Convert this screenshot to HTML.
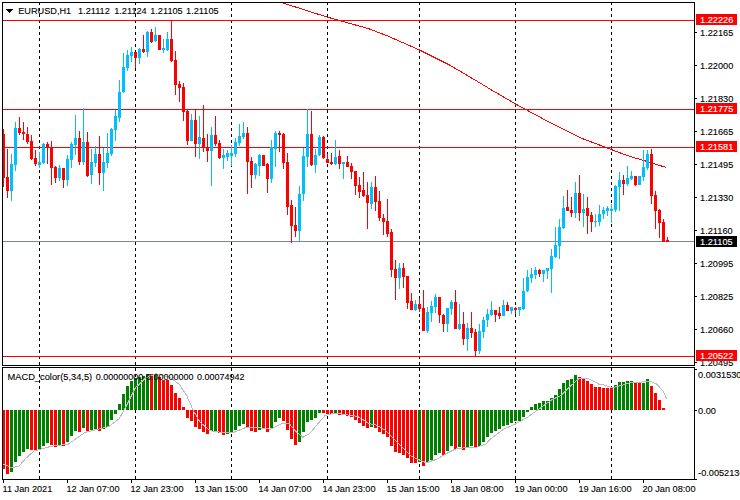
<!DOCTYPE html><html><head><meta charset="utf-8"><style>html,body{margin:0;padding:0;background:#fff;width:740px;height:500px;overflow:hidden}svg{display:block}text{font-family:"Liberation Sans",sans-serif;font-size:9.5px}</style></head><body>
<svg width="740" height="500" viewBox="0 0 740 500" shape-rendering="crispEdges">
<rect x="0" y="0" width="740" height="500" fill="#fff"/>
<g fill="#000">
<path d="M6 9h7l-3.5 4z" fill="#000"/>
<text transform="translate(18.2,14) scale(0.968,1)" fill="#000" stroke="#000" stroke-width="0.12">EURUSD,H1</text>
<text transform="translate(78,14) scale(0.968,1)" fill="#000" stroke="#000" stroke-width="0.12">1.21112</text>
<text transform="translate(114.2,14) scale(0.968,1)" fill="#000" stroke="#000" stroke-width="0.12">1.21124</text>
<text transform="translate(150.2,14) scale(0.968,1)" fill="#000" stroke="#000" stroke-width="0.12">1.21105</text>
<text transform="translate(186.1,14) scale(0.968,1)" fill="#000" stroke="#000" stroke-width="0.12">1.21105</text>
</g>
<g stroke="#000" stroke-width="1" stroke-dasharray="3 3">
<line x1="39.5" y1="2" x2="39.5" y2="479"/>
<line x1="135.5" y1="2" x2="135.5" y2="479"/>
<line x1="231.5" y1="2" x2="231.5" y2="479"/>
<line x1="327.5" y1="2" x2="327.5" y2="479"/>
<line x1="419.5" y1="2" x2="419.5" y2="479"/>
<line x1="515.5" y1="2" x2="515.5" y2="479"/>
<line x1="611.5" y1="2" x2="611.5" y2="479"/>
</g>
<rect x="3" y="20" width="691" height="1" fill="#FF0000"/>
<rect x="3" y="109" width="691" height="1" fill="#FF0000"/>
<rect x="3" y="147" width="691" height="1" fill="#FF0000"/>
<rect x="3" y="356" width="691" height="1" fill="#FF0000"/>
<rect x="3" y="241" width="691" height="1" fill="#778899"/>
<clipPath id="cm"><rect x="3" y="3" width="691" height="362"/></clipPath>
<polyline clip-path="url(#cm)" fill="none" stroke="#FF0000" stroke-width="1" points="270,-3 282,2.7 327,17 340,20.7 368.4,28.6 387.3,35.8 419.5,50 449.7,65.1 475,80 495.3,92.2 515.5,104 550,122.6 580.4,137.8 604.7,147 622,153.6 630,156.5 644,160.5 653,163.5 666.5,167.5"/>
<g>
<rect x="3" y="129" width="1" height="58" fill="#FF0000"/>
<rect x="2" y="134" width="3" height="44" fill="#FF0000"/>
<rect x="7" y="149" width="1" height="49" fill="#FF0000"/>
<rect x="6" y="177" width="3" height="14" fill="#FF0000"/>
<rect x="11" y="154" width="1" height="47" fill="#00BFFF"/>
<rect x="10" y="164" width="3" height="27" fill="#00BFFF"/>
<rect x="15" y="122" width="1" height="49" fill="#00BFFF"/>
<rect x="14" y="128" width="3" height="37" fill="#00BFFF"/>
<rect x="19" y="117" width="1" height="18" fill="#FF0000"/>
<rect x="18" y="128" width="3" height="5" fill="#FF0000"/>
<rect x="23" y="122" width="1" height="18" fill="#FF0000"/>
<rect x="22" y="132" width="3" height="2" fill="#FF0000"/>
<rect x="27" y="127" width="1" height="17" fill="#FF0000"/>
<rect x="26" y="134" width="3" height="8" fill="#FF0000"/>
<rect x="31" y="135" width="1" height="25" fill="#FF0000"/>
<rect x="30" y="141" width="3" height="18" fill="#FF0000"/>
<rect x="35" y="150" width="1" height="16" fill="#FF0000"/>
<rect x="34" y="158" width="3" height="6" fill="#FF0000"/>
<rect x="39" y="152" width="1" height="16" fill="#00BFFF"/>
<rect x="38" y="162" width="3" height="3" fill="#00BFFF"/>
<rect x="43" y="143" width="1" height="21" fill="#00BFFF"/>
<rect x="42" y="144" width="3" height="19" fill="#00BFFF"/>
<rect x="47" y="142" width="1" height="22" fill="#FF0000"/>
<rect x="46" y="144" width="3" height="3" fill="#FF0000"/>
<rect x="51" y="141" width="1" height="44" fill="#FF0000"/>
<rect x="50" y="147" width="3" height="21" fill="#FF0000"/>
<rect x="55" y="166" width="1" height="17" fill="#FF0000"/>
<rect x="54" y="167" width="3" height="11" fill="#FF0000"/>
<rect x="59" y="165" width="1" height="16" fill="#00BFFF"/>
<rect x="58" y="168" width="3" height="10" fill="#00BFFF"/>
<rect x="63" y="168" width="1" height="20" fill="#FF0000"/>
<rect x="62" y="168" width="3" height="12" fill="#FF0000"/>
<rect x="67" y="155" width="1" height="31" fill="#00BFFF"/>
<rect x="66" y="159" width="3" height="21" fill="#00BFFF"/>
<rect x="71" y="142" width="1" height="26" fill="#00BFFF"/>
<rect x="70" y="144" width="3" height="16" fill="#00BFFF"/>
<rect x="75" y="115" width="1" height="40" fill="#00BFFF"/>
<rect x="74" y="138" width="3" height="7" fill="#00BFFF"/>
<rect x="79" y="131" width="1" height="34" fill="#FF0000"/>
<rect x="78" y="138" width="3" height="24" fill="#FF0000"/>
<rect x="83" y="108" width="1" height="57" fill="#00BFFF"/>
<rect x="82" y="142" width="3" height="20" fill="#00BFFF"/>
<rect x="87" y="132" width="1" height="45" fill="#FF0000"/>
<rect x="86" y="142" width="3" height="34" fill="#FF0000"/>
<rect x="91" y="149" width="1" height="35" fill="#00BFFF"/>
<rect x="90" y="162" width="3" height="13" fill="#00BFFF"/>
<rect x="95" y="146" width="1" height="21" fill="#00BFFF"/>
<rect x="94" y="154" width="3" height="9" fill="#00BFFF"/>
<rect x="99" y="136" width="1" height="49" fill="#FF0000"/>
<rect x="98" y="154" width="3" height="19" fill="#FF0000"/>
<rect x="103" y="148" width="1" height="43" fill="#00BFFF"/>
<rect x="102" y="162" width="3" height="11" fill="#00BFFF"/>
<rect x="107" y="133" width="1" height="35" fill="#00BFFF"/>
<rect x="106" y="153" width="3" height="10" fill="#00BFFF"/>
<rect x="111" y="128" width="1" height="28" fill="#00BFFF"/>
<rect x="110" y="129" width="3" height="25" fill="#00BFFF"/>
<rect x="115" y="110" width="1" height="31" fill="#00BFFF"/>
<rect x="114" y="116" width="3" height="14" fill="#00BFFF"/>
<rect x="119" y="80" width="1" height="42" fill="#00BFFF"/>
<rect x="118" y="92" width="3" height="26" fill="#00BFFF"/>
<rect x="123" y="53" width="1" height="40" fill="#00BFFF"/>
<rect x="122" y="67" width="3" height="25" fill="#00BFFF"/>
<rect x="127" y="50" width="1" height="21" fill="#00BFFF"/>
<rect x="126" y="55" width="3" height="13" fill="#00BFFF"/>
<rect x="131" y="47" width="1" height="15" fill="#00BFFF"/>
<rect x="130" y="52" width="3" height="4" fill="#00BFFF"/>
<rect x="135" y="52" width="1" height="16" fill="#FF0000"/>
<rect x="134" y="52" width="3" height="6" fill="#FF0000"/>
<rect x="139" y="48" width="1" height="16" fill="#00BFFF"/>
<rect x="138" y="49" width="3" height="9" fill="#00BFFF"/>
<rect x="143" y="35" width="1" height="18" fill="#FF0000"/>
<rect x="142" y="49" width="3" height="3" fill="#FF0000"/>
<rect x="147" y="31" width="1" height="26" fill="#00BFFF"/>
<rect x="146" y="32" width="3" height="20" fill="#00BFFF"/>
<rect x="151" y="29" width="1" height="14" fill="#FF0000"/>
<rect x="150" y="32" width="3" height="10" fill="#FF0000"/>
<rect x="155" y="27" width="1" height="15" fill="#00BFFF"/>
<rect x="154" y="35" width="3" height="6" fill="#00BFFF"/>
<rect x="159" y="35" width="1" height="15" fill="#FF0000"/>
<rect x="158" y="35" width="3" height="15" fill="#FF0000"/>
<rect x="163" y="39" width="1" height="14" fill="#00BFFF"/>
<rect x="162" y="48" width="3" height="2" fill="#00BFFF"/>
<rect x="167" y="32" width="1" height="19" fill="#00BFFF"/>
<rect x="166" y="39" width="3" height="11" fill="#00BFFF"/>
<rect x="171" y="20" width="1" height="42" fill="#FF0000"/>
<rect x="170" y="39" width="3" height="22" fill="#FF0000"/>
<rect x="175" y="51" width="1" height="44" fill="#FF0000"/>
<rect x="174" y="60" width="3" height="25" fill="#FF0000"/>
<rect x="179" y="81" width="1" height="21" fill="#FF0000"/>
<rect x="178" y="84" width="3" height="4" fill="#FF0000"/>
<rect x="183" y="83" width="1" height="38" fill="#FF0000"/>
<rect x="182" y="87" width="3" height="25" fill="#FF0000"/>
<rect x="187" y="109" width="1" height="36" fill="#FF0000"/>
<rect x="186" y="111" width="3" height="30" fill="#FF0000"/>
<rect x="191" y="114" width="1" height="27" fill="#00BFFF"/>
<rect x="190" y="120" width="3" height="21" fill="#00BFFF"/>
<rect x="195" y="109" width="1" height="48" fill="#FF0000"/>
<rect x="194" y="120" width="3" height="24" fill="#FF0000"/>
<rect x="199" y="116" width="1" height="43" fill="#00BFFF"/>
<rect x="198" y="137" width="3" height="7" fill="#00BFFF"/>
<rect x="203" y="105" width="1" height="47" fill="#FF0000"/>
<rect x="202" y="138" width="3" height="10" fill="#FF0000"/>
<rect x="207" y="134" width="1" height="28" fill="#FF0000"/>
<rect x="206" y="147" width="3" height="4" fill="#FF0000"/>
<rect x="211" y="127" width="1" height="59" fill="#00BFFF"/>
<rect x="210" y="135" width="3" height="16" fill="#00BFFF"/>
<rect x="215" y="116" width="1" height="30" fill="#FF0000"/>
<rect x="214" y="135" width="3" height="9" fill="#FF0000"/>
<rect x="219" y="140" width="1" height="19" fill="#FF0000"/>
<rect x="218" y="143" width="3" height="15" fill="#FF0000"/>
<rect x="223" y="149" width="1" height="20" fill="#00BFFF"/>
<rect x="222" y="155" width="3" height="3" fill="#00BFFF"/>
<rect x="227" y="150" width="1" height="11" fill="#00BFFF"/>
<rect x="226" y="153" width="3" height="4" fill="#00BFFF"/>
<rect x="231" y="145" width="1" height="21" fill="#00BFFF"/>
<rect x="230" y="153" width="3" height="3" fill="#00BFFF"/>
<rect x="235" y="138" width="1" height="19" fill="#00BFFF"/>
<rect x="234" y="142" width="3" height="12" fill="#00BFFF"/>
<rect x="239" y="124" width="1" height="22" fill="#00BFFF"/>
<rect x="238" y="136" width="3" height="7" fill="#00BFFF"/>
<rect x="243" y="122" width="1" height="17" fill="#00BFFF"/>
<rect x="242" y="133" width="3" height="4" fill="#00BFFF"/>
<rect x="247" y="127" width="1" height="67" fill="#FF0000"/>
<rect x="246" y="133" width="3" height="29" fill="#FF0000"/>
<rect x="251" y="157" width="1" height="31" fill="#FF0000"/>
<rect x="250" y="161" width="3" height="14" fill="#FF0000"/>
<rect x="255" y="163" width="1" height="16" fill="#00BFFF"/>
<rect x="254" y="164" width="3" height="11" fill="#00BFFF"/>
<rect x="259" y="154" width="1" height="22" fill="#00BFFF"/>
<rect x="258" y="155" width="3" height="11" fill="#00BFFF"/>
<rect x="263" y="155" width="1" height="11" fill="#FF0000"/>
<rect x="262" y="155" width="3" height="11" fill="#FF0000"/>
<rect x="267" y="163" width="1" height="30" fill="#FF0000"/>
<rect x="266" y="164" width="3" height="15" fill="#FF0000"/>
<rect x="271" y="140" width="1" height="43" fill="#00BFFF"/>
<rect x="270" y="147" width="3" height="32" fill="#00BFFF"/>
<rect x="275" y="131" width="1" height="36" fill="#00BFFF"/>
<rect x="274" y="133" width="3" height="16" fill="#00BFFF"/>
<rect x="279" y="131" width="1" height="21" fill="#FF0000"/>
<rect x="278" y="133" width="3" height="2" fill="#FF0000"/>
<rect x="283" y="133" width="1" height="36" fill="#FF0000"/>
<rect x="282" y="134" width="3" height="29" fill="#FF0000"/>
<rect x="287" y="153" width="1" height="62" fill="#FF0000"/>
<rect x="286" y="162" width="3" height="45" fill="#FF0000"/>
<rect x="291" y="200" width="1" height="43" fill="#FF0000"/>
<rect x="290" y="205" width="3" height="21" fill="#FF0000"/>
<rect x="295" y="207" width="1" height="30" fill="#FF0000"/>
<rect x="294" y="225" width="3" height="6" fill="#FF0000"/>
<rect x="299" y="186" width="1" height="55" fill="#00BFFF"/>
<rect x="298" y="194" width="3" height="37" fill="#00BFFF"/>
<rect x="303" y="148" width="1" height="53" fill="#00BFFF"/>
<rect x="302" y="156" width="3" height="38" fill="#00BFFF"/>
<rect x="307" y="109" width="1" height="58" fill="#00BFFF"/>
<rect x="306" y="134" width="3" height="23" fill="#00BFFF"/>
<rect x="311" y="111" width="1" height="55" fill="#FF0000"/>
<rect x="310" y="134" width="3" height="31" fill="#FF0000"/>
<rect x="315" y="149" width="1" height="24" fill="#00BFFF"/>
<rect x="314" y="155" width="3" height="10" fill="#00BFFF"/>
<rect x="319" y="135" width="1" height="21" fill="#00BFFF"/>
<rect x="318" y="137" width="3" height="18" fill="#00BFFF"/>
<rect x="323" y="136" width="1" height="23" fill="#FF0000"/>
<rect x="322" y="137" width="3" height="21" fill="#FF0000"/>
<rect x="327" y="154" width="1" height="9" fill="#FF0000"/>
<rect x="326" y="159" width="3" height="4" fill="#FF0000"/>
<rect x="331" y="153" width="1" height="12" fill="#FF0000"/>
<rect x="330" y="162" width="3" height="2" fill="#FF0000"/>
<rect x="335" y="140" width="1" height="25" fill="#00BFFF"/>
<rect x="334" y="157" width="3" height="7" fill="#00BFFF"/>
<rect x="339" y="150" width="1" height="19" fill="#FF0000"/>
<rect x="338" y="156" width="3" height="8" fill="#FF0000"/>
<rect x="343" y="162" width="1" height="17" fill="#00BFFF"/>
<rect x="342" y="162" width="3" height="2" fill="#00BFFF"/>
<rect x="347" y="156" width="1" height="11" fill="#FF0000"/>
<rect x="346" y="162" width="3" height="5" fill="#FF0000"/>
<rect x="351" y="163" width="1" height="16" fill="#FF0000"/>
<rect x="350" y="166" width="3" height="6" fill="#FF0000"/>
<rect x="355" y="171" width="1" height="24" fill="#FF0000"/>
<rect x="354" y="171" width="3" height="15" fill="#FF0000"/>
<rect x="359" y="177" width="1" height="21" fill="#FF0000"/>
<rect x="358" y="185" width="3" height="7" fill="#FF0000"/>
<rect x="363" y="172" width="1" height="25" fill="#FF0000"/>
<rect x="362" y="190" width="3" height="6" fill="#FF0000"/>
<rect x="367" y="182" width="1" height="47" fill="#FF0000"/>
<rect x="366" y="195" width="3" height="8" fill="#FF0000"/>
<rect x="371" y="182" width="1" height="27" fill="#00BFFF"/>
<rect x="370" y="187" width="3" height="17" fill="#00BFFF"/>
<rect x="375" y="176" width="1" height="35" fill="#FF0000"/>
<rect x="374" y="187" width="3" height="15" fill="#FF0000"/>
<rect x="379" y="191" width="1" height="30" fill="#FF0000"/>
<rect x="378" y="201" width="3" height="17" fill="#FF0000"/>
<rect x="383" y="214" width="1" height="21" fill="#FF0000"/>
<rect x="382" y="218" width="3" height="4" fill="#FF0000"/>
<rect x="387" y="199" width="1" height="38" fill="#FF0000"/>
<rect x="386" y="221" width="3" height="13" fill="#FF0000"/>
<rect x="391" y="229" width="1" height="48" fill="#FF0000"/>
<rect x="390" y="232" width="3" height="38" fill="#FF0000"/>
<rect x="395" y="260" width="1" height="40" fill="#FF0000"/>
<rect x="394" y="269" width="3" height="9" fill="#FF0000"/>
<rect x="399" y="263" width="1" height="26" fill="#00BFFF"/>
<rect x="398" y="268" width="3" height="10" fill="#00BFFF"/>
<rect x="403" y="263" width="1" height="25" fill="#FF0000"/>
<rect x="402" y="268" width="3" height="9" fill="#FF0000"/>
<rect x="407" y="276" width="1" height="33" fill="#FF0000"/>
<rect x="406" y="276" width="3" height="27" fill="#FF0000"/>
<rect x="411" y="293" width="1" height="17" fill="#FF0000"/>
<rect x="410" y="301" width="3" height="9" fill="#FF0000"/>
<rect x="415" y="300" width="1" height="11" fill="#00BFFF"/>
<rect x="414" y="304" width="3" height="6" fill="#00BFFF"/>
<rect x="419" y="298" width="1" height="14" fill="#FF0000"/>
<rect x="418" y="304" width="3" height="5" fill="#FF0000"/>
<rect x="423" y="290" width="1" height="41" fill="#FF0000"/>
<rect x="422" y="308" width="3" height="23" fill="#FF0000"/>
<rect x="427" y="307" width="1" height="26" fill="#00BFFF"/>
<rect x="426" y="312" width="3" height="19" fill="#00BFFF"/>
<rect x="431" y="301" width="1" height="21" fill="#00BFFF"/>
<rect x="430" y="306" width="3" height="7" fill="#00BFFF"/>
<rect x="435" y="294" width="1" height="19" fill="#00BFFF"/>
<rect x="434" y="297" width="3" height="10" fill="#00BFFF"/>
<rect x="439" y="297" width="1" height="26" fill="#FF0000"/>
<rect x="438" y="297" width="3" height="18" fill="#FF0000"/>
<rect x="443" y="314" width="1" height="18" fill="#FF0000"/>
<rect x="442" y="315" width="3" height="9" fill="#FF0000"/>
<rect x="447" y="308" width="1" height="24" fill="#00BFFF"/>
<rect x="446" y="308" width="3" height="16" fill="#00BFFF"/>
<rect x="451" y="300" width="1" height="15" fill="#00BFFF"/>
<rect x="450" y="302" width="3" height="7" fill="#00BFFF"/>
<rect x="455" y="290" width="1" height="39" fill="#FF0000"/>
<rect x="454" y="302" width="3" height="27" fill="#FF0000"/>
<rect x="459" y="304" width="1" height="26" fill="#00BFFF"/>
<rect x="458" y="324" width="3" height="5" fill="#00BFFF"/>
<rect x="463" y="312" width="1" height="33" fill="#FF0000"/>
<rect x="462" y="324" width="3" height="15" fill="#FF0000"/>
<rect x="467" y="323" width="1" height="28" fill="#00BFFF"/>
<rect x="466" y="328" width="3" height="11" fill="#00BFFF"/>
<rect x="471" y="312" width="1" height="26" fill="#FF0000"/>
<rect x="470" y="328" width="3" height="5" fill="#FF0000"/>
<rect x="475" y="329" width="1" height="27" fill="#FF0000"/>
<rect x="474" y="332" width="3" height="19" fill="#FF0000"/>
<rect x="479" y="324" width="1" height="30" fill="#00BFFF"/>
<rect x="478" y="331" width="3" height="20" fill="#00BFFF"/>
<rect x="483" y="317" width="1" height="21" fill="#00BFFF"/>
<rect x="482" y="320" width="3" height="12" fill="#00BFFF"/>
<rect x="487" y="309" width="1" height="18" fill="#00BFFF"/>
<rect x="486" y="314" width="3" height="6" fill="#00BFFF"/>
<rect x="491" y="301" width="1" height="15" fill="#00BFFF"/>
<rect x="490" y="310" width="3" height="5" fill="#00BFFF"/>
<rect x="495" y="310" width="1" height="12" fill="#FF0000"/>
<rect x="494" y="310" width="3" height="5" fill="#FF0000"/>
<rect x="499" y="307" width="1" height="12" fill="#FF0000"/>
<rect x="498" y="313" width="3" height="3" fill="#FF0000"/>
<rect x="503" y="300" width="1" height="16" fill="#00BFFF"/>
<rect x="502" y="305" width="3" height="11" fill="#00BFFF"/>
<rect x="507" y="302" width="1" height="9" fill="#FF0000"/>
<rect x="506" y="305" width="3" height="6" fill="#FF0000"/>
<rect x="511" y="307" width="1" height="7" fill="#00BFFF"/>
<rect x="510" y="307" width="3" height="4" fill="#00BFFF"/>
<rect x="515" y="307" width="1" height="7" fill="#FF0000"/>
<rect x="514" y="308" width="3" height="2" fill="#FF0000"/>
<rect x="519" y="307" width="1" height="9" fill="#00BFFF"/>
<rect x="518" y="307" width="3" height="3" fill="#00BFFF"/>
<rect x="523" y="278" width="1" height="32" fill="#00BFFF"/>
<rect x="522" y="291" width="3" height="18" fill="#00BFFF"/>
<rect x="527" y="270" width="1" height="22" fill="#00BFFF"/>
<rect x="526" y="277" width="3" height="14" fill="#00BFFF"/>
<rect x="531" y="268" width="1" height="15" fill="#00BFFF"/>
<rect x="530" y="274" width="3" height="4" fill="#00BFFF"/>
<rect x="535" y="267" width="1" height="12" fill="#00BFFF"/>
<rect x="534" y="270" width="3" height="5" fill="#00BFFF"/>
<rect x="539" y="269" width="1" height="8" fill="#FF0000"/>
<rect x="538" y="270" width="3" height="4" fill="#FF0000"/>
<rect x="543" y="270" width="1" height="12" fill="#00BFFF"/>
<rect x="542" y="270" width="3" height="4" fill="#00BFFF"/>
<rect x="547" y="268" width="1" height="11" fill="#00BFFF"/>
<rect x="546" y="268" width="3" height="3" fill="#00BFFF"/>
<rect x="551" y="249" width="1" height="44" fill="#00BFFF"/>
<rect x="550" y="256" width="3" height="13" fill="#00BFFF"/>
<rect x="555" y="227" width="1" height="31" fill="#00BFFF"/>
<rect x="554" y="245" width="3" height="12" fill="#00BFFF"/>
<rect x="559" y="219" width="1" height="40" fill="#00BFFF"/>
<rect x="558" y="227" width="3" height="19" fill="#00BFFF"/>
<rect x="563" y="196" width="1" height="33" fill="#00BFFF"/>
<rect x="562" y="208" width="3" height="20" fill="#00BFFF"/>
<rect x="567" y="190" width="1" height="21" fill="#FF0000"/>
<rect x="566" y="207" width="3" height="4" fill="#FF0000"/>
<rect x="571" y="197" width="1" height="20" fill="#FF0000"/>
<rect x="570" y="210" width="3" height="3" fill="#FF0000"/>
<rect x="575" y="182" width="1" height="36" fill="#00BFFF"/>
<rect x="574" y="193" width="3" height="20" fill="#00BFFF"/>
<rect x="579" y="175" width="1" height="46" fill="#FF0000"/>
<rect x="578" y="193" width="3" height="20" fill="#FF0000"/>
<rect x="583" y="194" width="1" height="33" fill="#00BFFF"/>
<rect x="582" y="209" width="3" height="4" fill="#00BFFF"/>
<rect x="587" y="197" width="1" height="37" fill="#FF0000"/>
<rect x="586" y="208" width="3" height="8" fill="#FF0000"/>
<rect x="591" y="212" width="1" height="20" fill="#FF0000"/>
<rect x="590" y="215" width="3" height="7" fill="#FF0000"/>
<rect x="595" y="214" width="1" height="13" fill="#00BFFF"/>
<rect x="594" y="221" width="3" height="1" fill="#00BFFF"/>
<rect x="599" y="205" width="1" height="21" fill="#00BFFF"/>
<rect x="598" y="214" width="3" height="8" fill="#00BFFF"/>
<rect x="603" y="207" width="1" height="12" fill="#00BFFF"/>
<rect x="602" y="210" width="3" height="4" fill="#00BFFF"/>
<rect x="607" y="206" width="1" height="10" fill="#00BFFF"/>
<rect x="606" y="208" width="3" height="3" fill="#00BFFF"/>
<rect x="611" y="204" width="1" height="19" fill="#00BFFF"/>
<rect x="610" y="209" width="3" height="2" fill="#00BFFF"/>
<rect x="615" y="185" width="1" height="27" fill="#00BFFF"/>
<rect x="614" y="186" width="3" height="24" fill="#00BFFF"/>
<rect x="619" y="172" width="1" height="39" fill="#00BFFF"/>
<rect x="618" y="180" width="3" height="7" fill="#00BFFF"/>
<rect x="623" y="175" width="1" height="20" fill="#FF0000"/>
<rect x="622" y="180" width="3" height="4" fill="#FF0000"/>
<rect x="627" y="166" width="1" height="20" fill="#00BFFF"/>
<rect x="626" y="178" width="3" height="6" fill="#00BFFF"/>
<rect x="631" y="171" width="1" height="9" fill="#00BFFF"/>
<rect x="630" y="176" width="3" height="3" fill="#00BFFF"/>
<rect x="635" y="176" width="1" height="10" fill="#FF0000"/>
<rect x="634" y="176" width="3" height="9" fill="#FF0000"/>
<rect x="639" y="176" width="1" height="9" fill="#00BFFF"/>
<rect x="638" y="176" width="3" height="9" fill="#00BFFF"/>
<rect x="643" y="150" width="1" height="31" fill="#00BFFF"/>
<rect x="642" y="167" width="3" height="10" fill="#00BFFF"/>
<rect x="647" y="150" width="1" height="20" fill="#00BFFF"/>
<rect x="646" y="154" width="3" height="14" fill="#00BFFF"/>
<rect x="651" y="149" width="1" height="55" fill="#FF0000"/>
<rect x="650" y="154" width="3" height="42" fill="#FF0000"/>
<rect x="655" y="191" width="1" height="38" fill="#FF0000"/>
<rect x="654" y="195" width="3" height="16" fill="#FF0000"/>
<rect x="659" y="209" width="1" height="29" fill="#FF0000"/>
<rect x="658" y="210" width="3" height="13" fill="#FF0000"/>
<rect x="663" y="219" width="1" height="23" fill="#FF0000"/>
<rect x="662" y="222" width="3" height="20" fill="#FF0000"/>
<rect x="667" y="237" width="1" height="5" fill="#FF0000"/>
<rect x="666" y="240" width="3" height="2" fill="#FF0000"/>
</g>
<g>
<rect x="2" y="410" width="3" height="59" fill="#FF0000"/>
<rect x="6" y="410" width="3" height="64" fill="#FF0000"/>
<rect x="10" y="410" width="3" height="62" fill="#008000"/>
<rect x="14" y="410" width="3" height="52" fill="#008000"/>
<rect x="18" y="410" width="3" height="46" fill="#008000"/>
<rect x="22" y="410" width="3" height="42" fill="#008000"/>
<rect x="26" y="410" width="3" height="39" fill="#008000"/>
<rect x="30" y="410" width="3" height="40" fill="#FF0000"/>
<rect x="34" y="410" width="3" height="41" fill="#FF0000"/>
<rect x="38" y="410" width="3" height="40" fill="#008000"/>
<rect x="42" y="410" width="3" height="36" fill="#008000"/>
<rect x="46" y="410" width="3" height="33" fill="#008000"/>
<rect x="50" y="410" width="3" height="35" fill="#FF0000"/>
<rect x="54" y="410" width="3" height="37" fill="#FF0000"/>
<rect x="58" y="410" width="3" height="36" fill="#008000"/>
<rect x="62" y="410" width="3" height="36" fill="#FF0000"/>
<rect x="66" y="410" width="3" height="32" fill="#008000"/>
<rect x="70" y="410" width="3" height="26" fill="#008000"/>
<rect x="74" y="410" width="3" height="21" fill="#008000"/>
<rect x="78" y="410" width="3" height="22" fill="#FF0000"/>
<rect x="82" y="410" width="3" height="18" fill="#008000"/>
<rect x="86" y="410" width="3" height="21" fill="#FF0000"/>
<rect x="90" y="410" width="3" height="20" fill="#008000"/>
<rect x="94" y="410" width="3" height="19" fill="#008000"/>
<rect x="98" y="410" width="3" height="21" fill="#FF0000"/>
<rect x="102" y="410" width="3" height="19" fill="#008000"/>
<rect x="106" y="410" width="3" height="17" fill="#008000"/>
<rect x="110" y="410" width="3" height="10" fill="#008000"/>
<rect x="114" y="410" width="3" height="4" fill="#008000"/>
<rect x="118" y="404" width="3" height="6" fill="#008000"/>
<rect x="122" y="394" width="3" height="16" fill="#008000"/>
<rect x="126" y="386" width="3" height="24" fill="#008000"/>
<rect x="130" y="381" width="3" height="29" fill="#008000"/>
<rect x="134" y="378" width="3" height="32" fill="#008000"/>
<rect x="138" y="377" width="3" height="33" fill="#008000"/>
<rect x="142" y="376" width="3" height="34" fill="#008000"/>
<rect x="146" y="374" width="3" height="36" fill="#008000"/>
<rect x="150" y="374" width="3" height="36" fill="#FF0000"/>
<rect x="154" y="375" width="3" height="35" fill="#008000"/>
<rect x="158" y="377" width="3" height="33" fill="#FF0000"/>
<rect x="162" y="380" width="3" height="30" fill="#FF0000"/>
<rect x="166" y="380" width="3" height="30" fill="#FF0000"/>
<rect x="170" y="385" width="3" height="25" fill="#FF0000"/>
<rect x="174" y="393" width="3" height="17" fill="#FF0000"/>
<rect x="178" y="398" width="3" height="12" fill="#FF0000"/>
<rect x="182" y="407" width="3" height="3" fill="#FF0000"/>
<rect x="186" y="410" width="3" height="8" fill="#FF0000"/>
<rect x="190" y="410" width="3" height="11" fill="#FF0000"/>
<rect x="194" y="410" width="3" height="17" fill="#FF0000"/>
<rect x="198" y="410" width="3" height="19" fill="#FF0000"/>
<rect x="202" y="410" width="3" height="22" fill="#FF0000"/>
<rect x="206" y="410" width="3" height="24" fill="#FF0000"/>
<rect x="210" y="410" width="3" height="21" fill="#008000"/>
<rect x="214" y="410" width="3" height="21" fill="#008000"/>
<rect x="218" y="410" width="3" height="23" fill="#FF0000"/>
<rect x="222" y="410" width="3" height="25" fill="#FF0000"/>
<rect x="226" y="410" width="3" height="24" fill="#008000"/>
<rect x="230" y="410" width="3" height="23" fill="#008000"/>
<rect x="234" y="410" width="3" height="20" fill="#008000"/>
<rect x="238" y="410" width="3" height="16" fill="#008000"/>
<rect x="242" y="410" width="3" height="14" fill="#008000"/>
<rect x="246" y="410" width="3" height="17" fill="#FF0000"/>
<rect x="250" y="410" width="3" height="21" fill="#FF0000"/>
<rect x="254" y="410" width="3" height="22" fill="#FF0000"/>
<rect x="258" y="410" width="3" height="20" fill="#008000"/>
<rect x="262" y="410" width="3" height="18" fill="#FF0000"/>
<rect x="266" y="410" width="3" height="22" fill="#FF0000"/>
<rect x="270" y="410" width="3" height="18" fill="#008000"/>
<rect x="274" y="410" width="3" height="12" fill="#008000"/>
<rect x="278" y="410" width="3" height="8" fill="#008000"/>
<rect x="282" y="410" width="3" height="11" fill="#FF0000"/>
<rect x="286" y="410" width="3" height="20" fill="#FF0000"/>
<rect x="290" y="410" width="3" height="29" fill="#FF0000"/>
<rect x="294" y="410" width="3" height="35" fill="#FF0000"/>
<rect x="298" y="410" width="3" height="32" fill="#008000"/>
<rect x="302" y="410" width="3" height="22" fill="#008000"/>
<rect x="306" y="410" width="3" height="12" fill="#008000"/>
<rect x="310" y="410" width="3" height="10" fill="#008000"/>
<rect x="314" y="410" width="3" height="8" fill="#008000"/>
<rect x="318" y="410" width="3" height="3" fill="#008000"/>
<rect x="322" y="410" width="3" height="3" fill="#FF0000"/>
<rect x="326" y="410" width="3" height="4" fill="#FF0000"/>
<rect x="330" y="410" width="3" height="4" fill="#FF0000"/>
<rect x="334" y="410" width="3" height="3" fill="#008000"/>
<rect x="338" y="410" width="3" height="5" fill="#FF0000"/>
<rect x="342" y="410" width="3" height="4" fill="#FF0000"/>
<rect x="346" y="410" width="3" height="6" fill="#FF0000"/>
<rect x="350" y="410" width="3" height="7" fill="#FF0000"/>
<rect x="354" y="410" width="3" height="10" fill="#FF0000"/>
<rect x="358" y="410" width="3" height="13" fill="#FF0000"/>
<rect x="362" y="410" width="3" height="16" fill="#FF0000"/>
<rect x="366" y="410" width="3" height="18" fill="#FF0000"/>
<rect x="370" y="410" width="3" height="17" fill="#008000"/>
<rect x="374" y="410" width="3" height="18" fill="#FF0000"/>
<rect x="378" y="410" width="3" height="22" fill="#FF0000"/>
<rect x="382" y="410" width="3" height="24" fill="#FF0000"/>
<rect x="386" y="410" width="3" height="27" fill="#FF0000"/>
<rect x="390" y="410" width="3" height="36" fill="#FF0000"/>
<rect x="394" y="410" width="3" height="42" fill="#FF0000"/>
<rect x="398" y="410" width="3" height="43" fill="#FF0000"/>
<rect x="402" y="410" width="3" height="45" fill="#FF0000"/>
<rect x="406" y="410" width="3" height="48" fill="#FF0000"/>
<rect x="410" y="410" width="3" height="53" fill="#FF0000"/>
<rect x="414" y="410" width="3" height="53" fill="#FF0000"/>
<rect x="418" y="410" width="3" height="52" fill="#008000"/>
<rect x="422" y="410" width="3" height="56" fill="#FF0000"/>
<rect x="426" y="410" width="3" height="53" fill="#008000"/>
<rect x="430" y="410" width="3" height="50" fill="#008000"/>
<rect x="434" y="410" width="3" height="45" fill="#008000"/>
<rect x="438" y="410" width="3" height="43" fill="#008000"/>
<rect x="442" y="410" width="3" height="45" fill="#FF0000"/>
<rect x="446" y="410" width="3" height="41" fill="#008000"/>
<rect x="450" y="410" width="3" height="36" fill="#008000"/>
<rect x="454" y="410" width="3" height="39" fill="#FF0000"/>
<rect x="458" y="410" width="3" height="37" fill="#008000"/>
<rect x="462" y="410" width="3" height="40" fill="#FF0000"/>
<rect x="466" y="410" width="3" height="37" fill="#008000"/>
<rect x="470" y="410" width="3" height="36" fill="#008000"/>
<rect x="474" y="410" width="3" height="38" fill="#FF0000"/>
<rect x="478" y="410" width="3" height="36" fill="#008000"/>
<rect x="482" y="410" width="3" height="32" fill="#008000"/>
<rect x="486" y="410" width="3" height="27" fill="#008000"/>
<rect x="490" y="410" width="3" height="23" fill="#008000"/>
<rect x="494" y="410" width="3" height="21" fill="#008000"/>
<rect x="498" y="410" width="3" height="19" fill="#008000"/>
<rect x="502" y="410" width="3" height="16" fill="#008000"/>
<rect x="506" y="410" width="3" height="15" fill="#008000"/>
<rect x="510" y="410" width="3" height="13" fill="#008000"/>
<rect x="514" y="410" width="3" height="11" fill="#008000"/>
<rect x="518" y="410" width="3" height="11" fill="#008000"/>
<rect x="522" y="410" width="3" height="7" fill="#008000"/>
<rect x="526" y="410" width="3" height="2" fill="#008000"/>
<rect x="530" y="407" width="3" height="3" fill="#008000"/>
<rect x="534" y="404" width="3" height="6" fill="#008000"/>
<rect x="538" y="403" width="3" height="7" fill="#008000"/>
<rect x="542" y="401" width="3" height="9" fill="#008000"/>
<rect x="546" y="401" width="3" height="9" fill="#008000"/>
<rect x="550" y="398" width="3" height="12" fill="#008000"/>
<rect x="554" y="395" width="3" height="15" fill="#008000"/>
<rect x="558" y="389" width="3" height="21" fill="#008000"/>
<rect x="562" y="383" width="3" height="27" fill="#008000"/>
<rect x="566" y="380" width="3" height="30" fill="#008000"/>
<rect x="570" y="379" width="3" height="31" fill="#008000"/>
<rect x="574" y="375" width="3" height="35" fill="#008000"/>
<rect x="578" y="377" width="3" height="33" fill="#FF0000"/>
<rect x="582" y="379" width="3" height="31" fill="#FF0000"/>
<rect x="586" y="381" width="3" height="29" fill="#FF0000"/>
<rect x="590" y="384" width="3" height="26" fill="#FF0000"/>
<rect x="594" y="387" width="3" height="23" fill="#FF0000"/>
<rect x="598" y="387" width="3" height="23" fill="#FF0000"/>
<rect x="602" y="388" width="3" height="22" fill="#FF0000"/>
<rect x="606" y="388" width="3" height="22" fill="#FF0000"/>
<rect x="610" y="388" width="3" height="22" fill="#FF0000"/>
<rect x="614" y="385" width="3" height="25" fill="#008000"/>
<rect x="618" y="382" width="3" height="28" fill="#008000"/>
<rect x="622" y="382" width="3" height="28" fill="#008000"/>
<rect x="626" y="381" width="3" height="29" fill="#008000"/>
<rect x="630" y="381" width="3" height="29" fill="#008000"/>
<rect x="634" y="383" width="3" height="27" fill="#FF0000"/>
<rect x="638" y="383" width="3" height="27" fill="#FF0000"/>
<rect x="642" y="383" width="3" height="27" fill="#008000"/>
<rect x="646" y="379" width="3" height="31" fill="#008000"/>
<rect x="650" y="386" width="3" height="24" fill="#FF0000"/>
<rect x="654" y="393" width="3" height="17" fill="#FF0000"/>
<rect x="658" y="400" width="3" height="10" fill="#FF0000"/>
<rect x="662" y="408" width="3" height="2" fill="#FF0000"/>
</g>
<polyline fill="none" stroke="#BBBBBB" stroke-width="1" points="3,464.4 6.8,465.6 11.9,467.6 18.7,466.4 25.5,458.7 34,451 44.3,448.2 51,446.3 68,444.3 85,432.4 98.8,429 109,426.4 119.2,418.7 126.8,405 135.3,388 145.5,378 155.8,373.7 169.4,377 179.6,384.7 186.4,395 193.2,410.3 200,422.2 210.2,430.7 222.2,432.4 232.4,432.9 246.8,427.1 257,427.5 270.6,429.2 282.6,423.2 289.4,424 296.2,431.7 303,437.3 309.8,433.4 318.3,423.2 325.1,415.5 335.4,413 345.6,414.7 357.5,416.4 366,421.5 368.5,423.5 377,425.2 385.5,430.4 394,438.9 402.6,447.4 411.1,455.9 419.6,460.1 426.4,462.7 436.6,459.3 445.1,454.2 455.4,449.1 465.6,447.7 475.8,447.4 486,444 490.2,439.2 503.8,429 515.8,423.9 527.7,417 539.6,408.6 551.5,400 561.7,395 571.9,384.7 578.8,378.8 589,378.8 599.2,384.4 605.5,385.2 611.5,387.8 620.9,385.6 629.4,383 639.6,382.2 649.8,381.3 656.6,383.9 663.4,391.5 666.8,399.2"/>
<text transform="translate(7.5,380) scale(0.98,1)" fill="#000" stroke="#000" stroke-width="0.12">MACD_color(5,34,5)</text>
<text transform="translate(95.8,380) scale(0.947,1)" fill="#000" stroke="#000" stroke-width="0.12">0.00000000</text>
<text transform="translate(146,380) scale(0.947,1)" fill="#000" stroke="#000" stroke-width="0.12">0.00000000</text>
<text transform="translate(197,380) scale(0.947,1)" fill="#000" stroke="#000" stroke-width="0.12">0.00074942</text>
<rect x="695" y="0" width="45" height="500" fill="#fff"/>
<rect x="0" y="480" width="740" height="20" fill="#fff"/>
<rect x="2" y="2" width="693" height="1" fill="#000"/>
<rect x="2" y="365" width="693" height="1" fill="#000"/>
<rect x="2" y="2" width="1" height="364" fill="#000"/>
<rect x="694" y="2" width="1" height="364" fill="#000"/>
<rect x="2" y="367" width="693" height="1" fill="#000"/>
<rect x="2" y="479" width="693" height="1" fill="#000"/>
<rect x="2" y="367" width="1" height="113" fill="#000"/>
<rect x="694" y="367" width="1" height="113" fill="#000"/>
<rect x="695" y="32" width="2" height="1" fill="#000"/>
<text transform="translate(700.1,36) scale(0.968,1)" fill="#000" stroke="#000" stroke-width="0.12">1.22165</text>
<rect x="695" y="65" width="2" height="1" fill="#000"/>
<text transform="translate(700.1,69) scale(0.968,1)" fill="#000" stroke="#000" stroke-width="0.12">1.22000</text>
<rect x="695" y="98" width="2" height="1" fill="#000"/>
<text transform="translate(700.1,102) scale(0.968,1)" fill="#000" stroke="#000" stroke-width="0.12">1.21830</text>
<rect x="695" y="131" width="2" height="1" fill="#000"/>
<text transform="translate(700.1,135) scale(0.968,1)" fill="#000" stroke="#000" stroke-width="0.12">1.21665</text>
<rect x="695" y="164" width="2" height="1" fill="#000"/>
<text transform="translate(700.1,168) scale(0.968,1)" fill="#000" stroke="#000" stroke-width="0.12">1.21495</text>
<rect x="695" y="197" width="2" height="1" fill="#000"/>
<text transform="translate(700.1,201) scale(0.968,1)" fill="#000" stroke="#000" stroke-width="0.12">1.21330</text>
<rect x="695" y="230" width="2" height="1" fill="#000"/>
<text transform="translate(700.1,234) scale(0.968,1)" fill="#000" stroke="#000" stroke-width="0.12">1.21160</text>
<rect x="695" y="263" width="2" height="1" fill="#000"/>
<text transform="translate(700.1,267) scale(0.968,1)" fill="#000" stroke="#000" stroke-width="0.12">1.20995</text>
<rect x="695" y="296" width="2" height="1" fill="#000"/>
<text transform="translate(700.1,300) scale(0.968,1)" fill="#000" stroke="#000" stroke-width="0.12">1.20825</text>
<rect x="695" y="329" width="2" height="1" fill="#000"/>
<text transform="translate(700.1,333) scale(0.968,1)" fill="#000" stroke="#000" stroke-width="0.12">1.20660</text>
<rect x="695" y="362" width="2" height="1" fill="#000"/>
<text transform="translate(700.1,366) scale(0.968,1)" fill="#000" stroke="#000" stroke-width="0.12">1.20495</text>
<rect x="696" y="14" width="41" height="11" fill="#FF0000"/>
<text transform="translate(700.1,23) scale(0.968,1)" fill="#fff" stroke="#fff" stroke-width="0.12">1.22226</text>
<rect x="696" y="103" width="41" height="11" fill="#FF0000"/>
<text transform="translate(700.1,112) scale(0.968,1)" fill="#fff" stroke="#fff" stroke-width="0.12">1.21775</text>
<rect x="696" y="141" width="41" height="11" fill="#FF0000"/>
<text transform="translate(700.1,150) scale(0.968,1)" fill="#fff" stroke="#fff" stroke-width="0.12">1.21581</text>
<rect x="696" y="350" width="41" height="11" fill="#FF0000"/>
<text transform="translate(700.1,359) scale(0.968,1)" fill="#fff" stroke="#fff" stroke-width="0.12">1.20522</text>
<rect x="696" y="236" width="41" height="11" fill="#000"/>
<text transform="translate(700.1,245) scale(0.968,1)" fill="#fff" stroke="#fff" stroke-width="0.12">1.21105</text>
<rect x="695" y="369" width="2" height="1" fill="#000"/>
<text transform="translate(698.1,378) scale(0.968,1)" fill="#000" stroke="#000" stroke-width="0.12">0.0031530</text>
<rect x="695" y="410" width="2" height="1" fill="#000"/>
<text transform="translate(698.1,414) scale(0.968,1)" fill="#000" stroke="#000" stroke-width="0.12">0.00</text>
<rect x="695" y="479" width="2" height="1" fill="#000"/>
<text transform="translate(698.1,476) scale(0.968,1)" fill="#000" stroke="#000" stroke-width="0.12">-0.0052130</text>
<rect x="3" y="480" width="1" height="3" fill="#000"/>
<text transform="translate(2.5,492) scale(0.968,1)" fill="#000" stroke="#000" stroke-width="0.12">11 Jan 2021</text>
<rect x="67" y="480" width="1" height="3" fill="#000"/>
<text transform="translate(66.5,492) scale(0.968,1)" fill="#000" stroke="#000" stroke-width="0.12">12 Jan 07:00</text>
<rect x="131" y="480" width="1" height="3" fill="#000"/>
<text transform="translate(130.5,492) scale(0.968,1)" fill="#000" stroke="#000" stroke-width="0.12">12 Jan 23:00</text>
<rect x="195" y="480" width="1" height="3" fill="#000"/>
<text transform="translate(194.5,492) scale(0.968,1)" fill="#000" stroke="#000" stroke-width="0.12">13 Jan 15:00</text>
<rect x="259" y="480" width="1" height="3" fill="#000"/>
<text transform="translate(258.5,492) scale(0.968,1)" fill="#000" stroke="#000" stroke-width="0.12">14 Jan 07:00</text>
<rect x="323" y="480" width="1" height="3" fill="#000"/>
<text transform="translate(322.5,492) scale(0.968,1)" fill="#000" stroke="#000" stroke-width="0.12">14 Jan 23:00</text>
<rect x="387" y="480" width="1" height="3" fill="#000"/>
<text transform="translate(386.5,492) scale(0.968,1)" fill="#000" stroke="#000" stroke-width="0.12">15 Jan 15:00</text>
<rect x="451" y="480" width="1" height="3" fill="#000"/>
<text transform="translate(450.5,492) scale(0.968,1)" fill="#000" stroke="#000" stroke-width="0.12">18 Jan 08:00</text>
<rect x="515" y="480" width="1" height="3" fill="#000"/>
<text transform="translate(514.5,492) scale(0.968,1)" fill="#000" stroke="#000" stroke-width="0.12">19 Jan 00:00</text>
<rect x="579" y="480" width="1" height="3" fill="#000"/>
<text transform="translate(578.5,492) scale(0.968,1)" fill="#000" stroke="#000" stroke-width="0.12">19 Jan 16:00</text>
<rect x="643" y="480" width="1" height="3" fill="#000"/>
<text transform="translate(642.5,492) scale(0.968,1)" fill="#000" stroke="#000" stroke-width="0.12">20 Jan 08:00</text>
</svg></body></html>
